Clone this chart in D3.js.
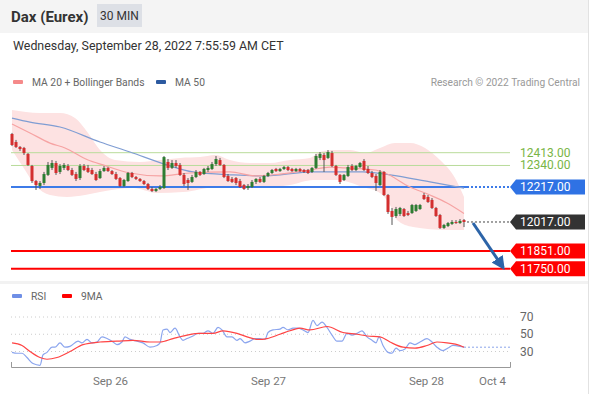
<!DOCTYPE html>
<html>
<head>
<meta charset="utf-8">
<script src="https://cdn.jsdelivr.net/npm/d3@7"></script>
<style>
  body { margin: 0; background: #fff; font-family: Roboto, "Noto Sans", sans-serif; }
  svg { display: block; }
</style>
</head>
<body>
<div id="chart"></div>
<script>
// Candles, 30 min, [open, high, low, close]
var candles = [
  [12520,12526,12451,12457],[12474,12486,12440,12446],[12446,12451,12423,12434],[12440,12446,12400,12411],
  [12406,12411,12337,12343],[12337,12343,12240,12251],[12251,12257,12200,12228],[12223,12251,12206,12240],
  [12240,12303,12228,12291],[12286,12360,12280,12343],[12326,12371,12314,12354],[12354,12366,12286,12297],
  [12303,12348,12291,12337],[12326,12354,12314,12343],[12337,12348,12308,12314],[12314,12326,12280,12286],
  [12291,12303,12251,12263],[12268,12348,12257,12337],[12337,12348,12308,12314],[12326,12343,12297,12303],
  [12314,12326,12286,12291],[12291,12303,12251,12257],[12268,12320,12263,12308],[12308,12337,12303,12326],
  [12326,12331,12303,12308],[12308,12314,12286,12291],[12291,12303,12257,12263],[12268,12274,12217,12223],
  [12223,12263,12217,12257],[12251,12303,12246,12297],[12297,12303,12268,12274],[12274,12280,12257,12263],
  [12263,12268,12246,12251],[12251,12257,12228,12234],[12234,12240,12200,12206],[12206,12217,12188,12194],
  [12194,12211,12188,12206],[12206,12228,12200,12217],[12211,12394,12206,12388],[12360,12377,12314,12326],
  [12326,12371,12320,12354],[12354,12371,12326,12337],[12343,12354,12280,12286],[12286,12297,12223,12234],
  [12257,12268,12200,12240],[12246,12286,12240,12274],[12274,12314,12268,12303],[12303,12308,12280,12286],
  [12291,12326,12286,12320],[12314,12337,12303,12326],[12320,12360,12314,12348],[12348,12394,12337,12377],
  [12371,12383,12337,12343],[12343,12348,12268,12274],[12280,12291,12246,12251],[12263,12274,12240,12246],
  [12268,12274,12228,12240],[12251,12263,12211,12217],[12228,12234,12200,12206],[12211,12234,12200,12223],
  [12217,12257,12211,12246],[12246,12268,12234,12263],[12263,12274,12240,12246],[12246,12286,12240,12280],
  [12280,12303,12274,12297],[12297,12320,12291,12314],[12320,12326,12303,12308],[12308,12326,12303,12320],
  [12320,12337,12314,12331],[12331,12337,12308,12314],[12320,12326,12303,12308],[12308,12326,12303,12320],
  [12320,12326,12303,12308],[12314,12320,12297,12303],[12314,12320,12291,12297],[12303,12331,12297,12326],
  [12326,12406,12320,12394],[12383,12417,12371,12406],[12400,12411,12303,12371],[12383,12428,12377,12417],
  [12411,12423,12331,12337],[12337,12343,12280,12286],[12286,12291,12234,12246],[12257,12291,12251,12286],
  [12280,12343,12274,12331],[12337,12348,12308,12314],[12314,12343,12308,12337],[12331,12360,12326,12354],
  [12366,12377,12308,12314],[12320,12337,12291,12297],[12297,12308,12268,12274],[12280,12291,12194,12240],
  [12228,12314,12223,12303],[12303,12308,12166,12171],[12171,12177,12063,12074],[12080,12097,12000,12046],
  [12051,12103,12040,12091],[12063,12103,12051,12097],[12091,12097,12046,12051],[12068,12080,12051,12057],
  [12068,12120,12063,12114],[12080,12120,12074,12114],[12091,12120,12086,12114],[12171,12183,12143,12148],
  [12160,12171,12126,12131],[12143,12154,12091,12097],[12097,12103,12046,12051],[12057,12063,11977,11983],
  [11983,12006,11977,12000],[11994,12017,11988,12011],[12006,12028,12000,12017],[12017,12028,12006,12011],
  [12011,12034,12006,12023],[12028,12034,11988,12017]
];

// [candle index, value]
var ma20 = [[0,12577],[4.5,12526],[9.5,12468],[13.25,12440],[19,12371],[22.75,12343],[29.5,12297],
  [37,12280],[44.5,12297],[54.5,12303],[60.75,12280],[67,12291],[74.5,12314],[79.5,12331],[83.25,12326],
  [90.75,12314],[93.25,12297],[99.5,12217],[104.5,12171],[108.75,12126],[113,12066]];
var bbUpper = [[0,12657],[7,12640],[12,12640],[15.75,12611],[19,12526],[22,12428],[25.75,12371],[32,12360],
  [37,12371],[42,12383],[47,12388],[50.75,12400],[54.5,12371],[59.5,12354],[64.5,12354],[69.5,12371],
  [74.5,12383],[77,12417],[80.75,12428],[84.5,12428],[88.25,12411],[92,12440],[95.75,12468],[99.5,12468],
  [103.25,12440],[107,12371],[110.75,12268],[113,12160]];
var bbLower = [[0,12428],[3.25,12314],[5.75,12228],[9.5,12171],[13.75,12160],[18.25,12171],[22,12188],
  [30.25,12211],[36.25,12183],[42.75,12188],[51.25,12217],[59.5,12211],[69.5,12228],[75.25,12257],
  [81.25,12257],[87.75,12217],[92,12183],[94.5,12114],[96.25,12028],[100.25,11988],[108.75,11971],[113,11971]];
var ma50 = [[0,12611],[4.5,12588],[12,12560],[22,12474],[29.5,12417],[38.75,12343],[45.25,12303],
  [55.25,12286],[62.75,12280],[75.25,12303],[87.75,12303],[94.5,12286],[104.5,12246],[113,12211]];

var rsi = [[0,29],[1.25,28],[2.5,28],[3.75,23],[5.25,16],[7,14],[7.75,26],[8.75,29],[10,35],[10.75,35],
  [12,40],[13.25,35],[14.5,36],[16.5,42],[17.5,40],[18.75,44],[20,40],[21.25,41],[22.5,47],[23.75,45],
  [25,42],[26.25,38],[27.5,41],[28.25,47],[29.5,44],[31.25,42],[32.75,40],[34.5,35],[36.25,37],[37,40],
  [37.75,55],[38.75,56],[39.5,52],[40.75,57],[42,47],[42.75,43],[43.75,45],[45.25,48],[46.5,51],[47.75,51],
  [49,54],[50.25,51],[51.5,58],[52.5,55],[53.75,47],[55,47],[56.25,43],[57,45],[58.25,40],[59.5,42],
  [60.75,45],[62,45],[63.25,44],[64,52],[65.25,55],[67,56],[67.75,58],[69,55],[70.25,57],[71.5,57],
  [72.75,55],[74,52],[75.25,66],[76.25,60],[77.5,64],[78.75,58],[80,49],[81.25,42],[82.5,42],[83.75,51],
  [85,49],[86.25,51],[87.5,54],[88.75,47],[90,43],[91,40],[91.75,47],[92.75,37],[94,29],[95,28],[96,34],
  [97,31],[98.25,33],[99.5,40],[100.75,38],[102,41],[103.75,45],[105,41],[106.25,35],[107.75,31],[109,34],
  [110.25,37],[112,36],[113,35]];
var rsiMa = [[0,40],[2.5,37],[4.5,30],[7,23],[8.75,21],[11.25,23],[14.5,30],[17.75,38],[22,41],[26.25,42],
  [30.25,43],[34.5,41],[37,41],[40.25,45],[43.75,49],[47,51],[50.25,51],[52.75,54],[56.25,51],[58.75,47],
  [61.5,44],[63.75,45],[67,50],[69.5,54],[72,57],[74.5,55],[78.75,59],[82.75,52],[86.25,50],[88.75,48],
  [92,47],[94.5,41],[97.75,35],[100.75,34],[103.75,37],[106.25,41],[108.75,40],[112,37],[113,35]];

var supportLevels = [11851, 11750];
var resistLevels = [12413, 12340];
var pivotLevel = 12217;
var lastPrice = 12017;
var rsiTicks = [70, 50, 30];
var dateTicks = [[24.5, "Sep 26"], [64, "Sep 27"], [103.5, "Sep 28"], [120, "Oct 4"]];

var svgWidth = 593, svgHeight = 394;
var plotLeft = 11, plotRight = 510;

var svg = d3.select("#chart").append("svg")
    .attr("width", svgWidth)
    .attr("height", svgHeight);

// frame + header
svg.append("rect").attr("x", 0).attr("y", 0).attr("width", 588).attr("height", 33).attr("fill", "#f4f4f4");
svg.append("line").attr("x1", 588.5).attr("x2", 588.5).attr("y1", 0).attr("y2", svgHeight)
    .attr("stroke", "#e2e2e2");
svg.append("text").attr("x", 11).attr("y", 21.5).text("Dax (Eurex)")
    .attr("font-size", 15).attr("font-weight", "bold").attr("fill", "#333");
svg.append("rect").attr("x", 97).attr("y", 4).attr("width", 45).attr("height", 23).attr("fill", "#dde0e6");
svg.append("text").attr("x", 119.5).attr("y", 20).attr("text-anchor", "middle").text("30 MIN")
    .attr("font-size", 12).attr("fill", "#333");
svg.append("text").attr("x", 13).attr("y", 50).text("Wednesday, September 28, 2022 7:55:59 AM CET")
    .attr("font-size", 12.4).attr("fill", "#333");

// legend
function legendItem(x, y, color, label) {
    svg.append("rect").attr("x", x).attr("y", y - 2).attr("width", 10).attr("height", 4).attr("rx", 1)
        .attr("fill", color);
    svg.append("text").attr("x", x + 19).attr("y", y + 4).text(label)
        .attr("font-size", 10.3).attr("fill", "#666");
}
legendItem(13, 82, "#f58a8a", "MA 20 + Bollinger Bands");
legendItem(156, 82, "#2c5aa0", "MA 50");
svg.append("text").attr("x", 580).attr("y", 86).attr("text-anchor", "end")
    .text("Research \u00a9 2022 Trading Central").attr("font-size", 10.2).attr("fill", "#999");

// scales
var x = d3.scaleLinear().domain([-0.25, 124.5]).range([plotLeft, plotRight]);
var y = d3.scaleLinear().domain([11750, 12413]).range([268.7, 152.7]);
var yRsi = d3.scaleLinear().domain([30, 70]).range([351.5, 317]);

// bollinger band
var bandTop = d3.line().x(d => x(d[0])).y(d => y(d[1])).curve(d3.curveMonotoneX);
var bandPath = bandTop(bbUpper) + "L" + bandTop(bbLower.slice().reverse()).slice(1);
svg.append("path").attr("d", bandPath).attr("fill", "#fde2e2");

// horizontal levels
resistLevels.forEach(function (v) {
    svg.append("line").attr("x1", plotLeft).attr("x2", plotRight).attr("y1", y(v)).attr("y2", y(v))
        .attr("stroke", "#b9dc9b").attr("stroke-width", 1);
    svg.append("text").attr("x", 520).attr("y", y(v) + 4).text(v.toFixed(2))
        .attr("font-size", 12).attr("fill", "#79b545");
});
supportLevels.forEach(function (v) {
    svg.append("line").attr("x1", plotLeft).attr("x2", plotRight).attr("y1", y(v)).attr("y2", y(v))
        .attr("stroke", "#f00").attr("stroke-width", 2);
});

var lastX = x(candles.length - 1) + 3;
svg.append("line").attr("x1", plotLeft).attr("x2", lastX).attr("y1", y(pivotLevel)).attr("y2", y(pivotLevel))
    .attr("stroke", "#3d7be8").attr("stroke-width", 2);
svg.append("line").attr("x1", lastX).attr("x2", plotRight).attr("y1", y(pivotLevel)).attr("y2", y(pivotLevel))
    .attr("stroke", "#3d7be8").attr("stroke-width", 2).attr("stroke-dasharray", "2,2");
svg.append("line").attr("x1", lastX).attr("x2", plotRight).attr("y1", y(lastPrice)).attr("y2", y(lastPrice))
    .attr("stroke", "#444").attr("stroke-width", 1).attr("stroke-dasharray", "2,2");

// moving averages
var maLine = d3.line().x(d => x(d[0])).y(d => y(d[1])).curve(d3.curveMonotoneX);
svg.append("path").attr("d", maLine(ma50)).attr("fill", "none").attr("stroke", "#7f9dd3").attr("stroke-width", 1.2);
svg.append("path").attr("d", maLine(ma20)).attr("fill", "none").attr("stroke", "#f6a3a3").attr("stroke-width", 1.2);

// candles
var cg = svg.append("g");
cg.selectAll("line").data(candles).enter().append("line")
    .attr("x1", (d, i) => x(i)).attr("x2", (d, i) => x(i))
    .attr("y1", d => y(d[1])).attr("y2", d => y(d[2]))
    .attr("stroke", "#555").attr("stroke-width", 1);
cg.selectAll("rect").data(candles).enter().append("rect")
    .attr("x", (d, i) => x(i) - 1.5).attr("width", 3)
    .attr("y", d => y(Math.max(d[0], d[3])))
    .attr("height", d => Math.max(1, Math.abs(y(d[0]) - y(d[3]))))
    .attr("fill", d => d[3] >= d[0] ? "#2e7d32" : "#d32f2f");

// price labels
function priceTag(v, color) {
    var cy = y(v);
    svg.append("path")
        .attr("d", `M510,${cy} L516,${cy - 7.5} H585 V${cy + 7.5} H516 Z`)
        .attr("fill", color);
    svg.append("text").attr("x", 520).attr("y", cy + 4).text(v.toFixed(2))
        .attr("font-size", 12).attr("fill", "#fff");
}
priceTag(pivotLevel, "#2f72e4");
priceTag(lastPrice, "#333");
supportLevels.forEach(v => priceTag(v, "#f00"));

// forecast arrow
svg.append("defs").append("marker").attr("id", "arrowHead")
    .attr("viewBox", "0 0 10 10").attr("refX", 8).attr("refY", 5)
    .attr("markerWidth", 4.5).attr("markerHeight", 4.5).attr("orient", "auto")
    .append("path").attr("d", "M0,0 L10,5 L0,10 Z").attr("fill", "#2c64a8");
svg.append("line")
    .attr("x1", x(candles.length - 1) + 9).attr("y1", y(lastPrice) + 1)
    .attr("x2", x(122.8)).attr("y2", y(supportLevels[1]) - 1)
    .attr("stroke", "#2c64a8").attr("stroke-width", 3).attr("marker-end", "url(#arrowHead)");

// panel separator
svg.append("rect").attr("x", 0).attr("y", 281).attr("width", 588).attr("height", 3).attr("fill", "#f2f2f2");

// RSI panel
legendItem(12, 296, "#6f8fe6", "RSI");
legendItem(62, 296, "#f00", "9MA");

rsiTicks.forEach(function (v) {
    svg.append("line").attr("x1", plotLeft).attr("x2", plotRight).attr("y1", yRsi(v)).attr("y2", yRsi(v))
        .attr("stroke", "#ccc").attr("stroke-dasharray", "1,3");
    svg.append("text").attr("x", 520).attr("y", yRsi(v) + 4).text(v)
        .attr("font-size", 12).attr("fill", "#666");
});

var rsiLine = d3.line().x(d => x(d[0])).y(d => yRsi(d[1])).curve(d3.curveMonotoneX);
var lastRsi = rsi[rsi.length - 1];
svg.append("line").attr("x1", x(lastRsi[0])).attr("x2", plotRight)
    .attr("y1", yRsi(lastRsi[1])).attr("y2", yRsi(lastRsi[1]))
    .attr("stroke", "#8aa4ea").attr("stroke-dasharray", "2,2");
svg.append("path").attr("d", rsiLine(rsi)).attr("fill", "none").attr("stroke", "#8ba5ee").attr("stroke-width", 1.2);
svg.append("path").attr("d", rsiLine(rsiMa)).attr("fill", "none").attr("stroke", "#f44").attr("stroke-width", 1.2);

// time axis
var axis = d3.axisBottom(x)
    .tickValues(dateTicks.map(d => d[0]))
    .tickFormat((d, i) => dateTicks[i][1])
    .tickSizeInner(0).tickSizeOuter(-5).tickPadding(10);
var ag = svg.append("g").attr("transform", "translate(0,367)").call(axis);
ag.select(".domain").attr("stroke", "#999");
ag.selectAll("text").attr("font-size", 11.5).attr("fill", "#777").attr("font-family", "Roboto");
</script>
</body>
</html>
